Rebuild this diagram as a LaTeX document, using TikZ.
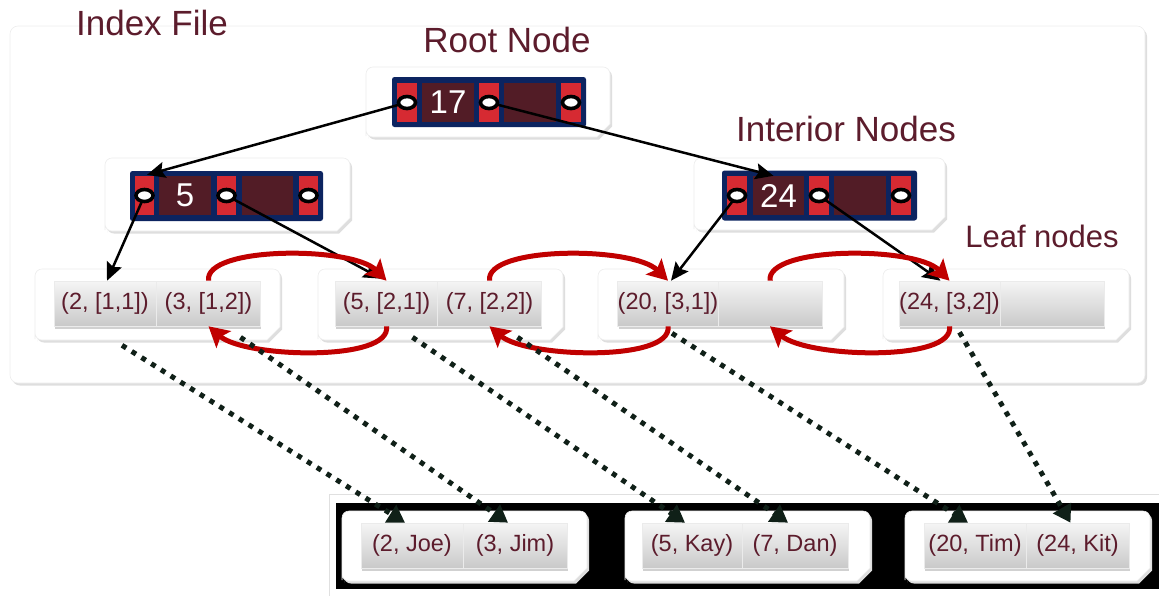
\documentclass[tikz,border=0pt]{standalone}
\usepackage{fontspec}
\setmainfont{Liberation Sans}
\usetikzlibrary{arrows.meta,calc,shapes.geometric,shadows}
\definecolor{maroon}{RGB}{92,28,44}
\definecolor{navy}{RGB}{12,36,96}
\definecolor{ptrred}{RGB}{214,42,50}
\definecolor{keydark}{RGB}{82,28,38}
\definecolor{arrred}{RGB}{192,0,0}
\definecolor{dotcol}{RGB}{16,32,24}
\newcommand\cutpanel[4]{\path[panel] (#1,#4-8) [rounded corners=7pt] -- (#1,#2) -- (#3,#2) [sharp corners] -- (#3,#4-13) -- (#3-13,#4) [rounded corners=7pt] -- (#1,#4) -- cycle;}
\begin{document}
\begin{tikzpicture}[x=1pt,y=-1pt,
  panel/.style={fill=white, draw=black!7, line width=0.6pt, general shadow={fill=black!13, shadow xshift=2pt, shadow yshift=-2.5pt}},
  title/.style={text=maroon, font=\fontsize{35}{40}\selectfont, anchor=base, inner sep=0pt},
  bar/.style={fill=navy, draw=none, rounded corners=2.5pt, minimum height=50pt, inner sep=0pt},
  ptrcell/.style={fill=ptrred, draw=none, minimum width=20pt, minimum height=39pt, inner sep=0pt},
  keycell/.style={fill=keydark, draw=none, minimum width=52pt, minimum height=39pt, inner sep=0pt, text=white, font=\fontsize{33}{36}\selectfont},
  ptr/.style={ellipse, draw=black, fill=white, line width=3.6pt, minimum width=17pt, minimum height=12pt, inner sep=0pt},
  cell/.style={top color=white!96!black, bottom color=white!79!black, draw=white!92!black, line width=0.6pt, minimum width=102pt, minimum height=45pt, inner sep=0pt, text=maroon, font=\fontsize{23.5}{27}\selectfont, general shadow={fill=black!18, shadow xshift=0.8pt, shadow yshift=-2.5pt}},
  blackarrow/.style={line width=2.5pt, -{Stealth[length=18pt,width=16pt,inset=3pt]}},
  redarrow/.style={draw=arrred, line width=5pt, -{Stealth[length=20pt,width=22pt,inset=4pt]}},
  dotarrow/.style={draw=dotcol, line width=5pt, dash pattern=on 5pt off 6.5pt, -{Triangle[length=17pt,width=20pt]}}
]
\useasboundingbox (0,0) rectangle (1159,595);
% ---------- Index file panel
\path[panel, rounded corners=8pt] (10,26) rectangle (1145,383);
\node[title] (tIndex) at (152,35) {Index File};
\node[title] (tRoot) at (507,52) {Root Node};
\node[title] (tInt) at (846,141) {Interior Nodes};
\node[title, font=\fontsize{31}{36}\selectfont] (tLeaf) at (1042,247) {Leaf nodes};
% ---------- node panels
\cutpanel{366}{67}{610}{137}
\cutpanel{105}{158}{350}{231}
\cutpanel{694}{158}{945}{230}
\cutpanel{35}{269}{280}{340}
\cutpanel{318}{269}{563}{340}
\cutpanel{598}{269}{844}{340}
\cutpanel{883}{269}{1129}{340}
% ---------- root node
\node[bar, minimum width=194pt] (rbar) at (489,102) {};
\node[ptrcell] (rr1) at (407,102.5) {};
\node[keycell] (k17) at (448,102.5) {17};
\node[ptrcell] (rr2) at (489,102.5) {};
\node[keycell] (rk2) at (530,102.5) {};
\node[ptrcell] (rr3) at (571,102.5) {};
% ---------- left interior node
\node[bar, minimum width=193pt] (lbar) at (226.5,196) {};
\node[ptrcell, minimum width=19pt] (lr1) at (144.5,195.5) {};
\node[keycell] (k5) at (185,195.5) {5};
\node[ptrcell, minimum width=19pt] (lr2) at (226.5,195.5) {};
\node[keycell, minimum width=51pt] (lk2) at (267.5,195.5) {};
\node[ptrcell, minimum width=19pt] (lr3) at (308.5,195.5) {};
% ---------- right interior node
\node[bar, minimum width=195pt] (ibar) at (819.5,195.5) {};
\node[ptrcell] (ir1) at (737,195.5) {};
\node[keycell, minimum width=51pt] (k24) at (778.5,195.5) {24};
\node[ptrcell] (ir2) at (819,195.5) {};
\node[keycell] (ik2) at (860,195.5) {};
\node[ptrcell] (ir3) at (901,195.5) {};
% ---------- leaf cells
\node[cell] (l1a) at (105,303.5) {(2, [1,1])};
\node[cell, minimum width=104pt] (l1b) at (208.5,303.5) {(3, [1,2])};
\node[cell] (l2a) at (386.5,303.5) {(5, [2,1])};
\node[cell, minimum width=104pt] (l2b) at (489.5,303.5) {(7, [2,2])};
\node[cell, minimum width=100pt] (l3a) at (668,303.5) {(20, [3,1])};
\node[cell, minimum width=104pt] (l3b) at (770,303.5) {};
\node[cell, minimum width=101pt] (l4a) at (949.5,303.5) {(24, [3,2])};
\node[cell, minimum width=104pt] (l4b) at (1052,303.5) {};
% ---------- data file
\path[fill=white, draw=black!12, line width=0.8pt] (329,494) rectangle (1170,605);
\path[fill=black] (336,503) rectangle (1170,589);
\cutpanel{342}{511}{587}{581}
\cutpanel{625}{511}{870}{581}
\cutpanel{905}{511}{1150}{581}
\node[cell] (d1a) at (412,545.5) {(2, Joe)};
\node[cell, minimum width=104pt] (d1b) at (515,545.5) {(3, Jim)};
\node[cell, minimum width=100pt] (d2a) at (692,545.5) {(5, Kay)};
\node[cell, minimum width=106pt] (d2b) at (795,545.5) {(7, Dan)};
\node[cell] (d3a) at (975,545.5) {(20, Tim)};
\node[cell, minimum width=103pt] (d3b) at (1077.5,545.5) {(24, Kit)};
% ---------- tree pointers (black)
\draw[blackarrow] (rr1.center) -- ($(lr1 |- lbar.north)+(2.5,4)$);
\draw[blackarrow] (rr2.center) -- ($(k24.north)+(-5,0)$);
\draw[blackarrow] (lr1.center) -- ($(l1a.north)+(2,0)$);
\draw[blackarrow] (lr2.center) -- ($(l2a.north)+(-5,-2)$);
\draw[blackarrow] (ir1.center) -- ($(l3a.north)+(3,0)$);
\draw[blackarrow] (ir2.center) -- ($(l4a.north)+(-9,0)$);
% pointer ovals
\foreach \p in {rr1,rr2,rr3,lr1,lr2,lr3,ir1,ir2,ir3}{\node[ptr] at (\p.center) {};}
% ---------- sibling links (red)
\draw[redarrow] (l1b.north) .. controls (204,246) and (352,246) .. (l2a.north);
\draw[redarrow] (l2b.north) .. controls (485,246) and (633,246) .. (l3a.north);
\draw[redarrow] (l3b.north) .. controls (766,246) and (915,246) .. (l4a.north);
\draw[redarrow] (l2a.south) .. controls (392,362) and (245,358) .. (l1b.south);
\draw[redarrow] (l3a.south) .. controls (673,362) and (527,358) .. (l2b.south);
\draw[redarrow] (l4a.south) .. controls (955,362) and (808,358) .. (l3b.south);
% ---------- record pointers (dotted)
\draw[dotarrow] ($(l1a.south)+(17,19)$) -- ($(d1a.north)+(-7,0)$);
\draw[dotarrow] ($(l1b.south)+(32,11)$) -- ($(d1b.north)+(-7,0)$);
\draw[dotarrow] ($(l2a.south)+(26,11)$) -- ($(d2a.north)+(-7,0)$);
\draw[dotarrow] ($(l2b.south)+(28,11)$) -- ($(d2b.north)+(-7,0)$);
\draw[dotarrow] ($(l3a.south)+(4,7)$) -- ($(d3a.north)+(-7,0)$);
\draw[dotarrow] ($(l4a.south)+(10,6)$) -- ($(d3b.north)+(-7,0)$);
\end{tikzpicture}
\end{document}
